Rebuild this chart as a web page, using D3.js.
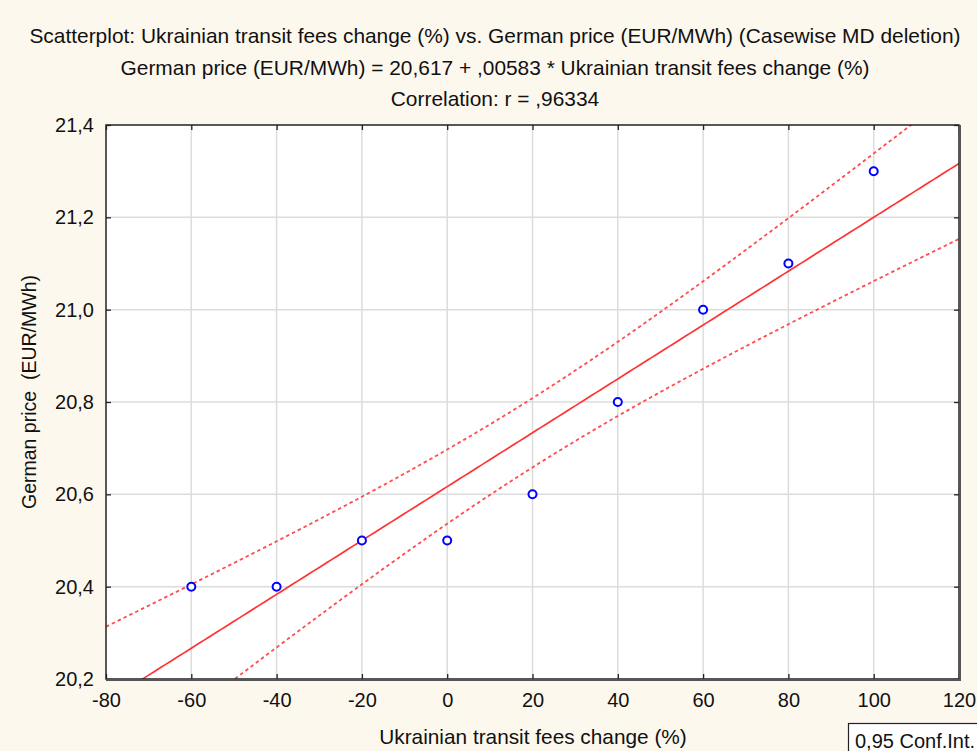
<!DOCTYPE html>
<html>
<head>
<meta charset="utf-8">
<script src="https://cdn.jsdelivr.net/npm/d3@7"></script>
<style>
  body { margin: 0; background: #fdf8ee; }
  svg { display: block; font-family: "Liberation Sans", Arial, sans-serif; }
</style>
</head>
<body>
<svg id="chart" width="977" height="751"></svg>
<script>
// data
var feesChange = [-60, -40, -20, 0, 20, 40, 60, 80, 100]
var germanPrice = [20.4, 20.4, 20.5, 20.5, 20.6, 20.8, 21.0, 21.1, 21.3]
var xTicks = [-80, -60, -40, -20, 0, 20, 40, 60, 80, 100, 120]
var yTicks = [20.2, 20.4, 20.6, 20.8, 21.0, 21.2, 21.4]
var titles = [
  "Scatterplot: Ukrainian transit fees change (%) vs. German price (EUR/MWh) (Casewise MD deletion)",
  "German price (EUR/MWh) = 20,617 + ,00583 * Ukrainian transit fees change (%)",
  "Correlation: r = ,96334"
]

var svg = d3.select('#chart')
var pL = 106, pR = 959, pT = 125, pB = 679

var x = d3.scaleLinear().domain([-80, 120]).range([pL, pR])
var y = d3.scaleLinear().domain([20.2, 21.4]).range([pB, pT])
var xFmt = v => String(v)
var yFmt = v => v.toFixed(1).replace('.', ',')

// regression + 95% band, from the points
var n = feesChange.length
var mx = d3.mean(feesChange), my = d3.mean(germanPrice)
var sxx = d3.sum(feesChange, d => (d - mx) * (d - mx))
var sxy = d3.sum(feesChange, (d, i) => (d - mx) * (germanPrice[i] - my))
var b = sxy / sxx, a = my - b * mx
var sse = d3.sum(feesChange, (d, i) => Math.pow(germanPrice[i] - (a + b * d), 2))
var s = Math.sqrt(sse / (n - 2))
var t = 2.3646 // t(0.975, 7)

svg.append('rect').attr('x', pL).attr('y', pT)
  .attr('width', pR - pL).attr('height', pB - pT).attr('fill', 'white')

svg.append('defs').append('clipPath').attr('id', 'clip')
  .append('rect').attr('x', pL).attr('y', pT).attr('width', pR - pL).attr('height', pB - pT)

// grid
svg.append('g').selectAll('line').data(xTicks.slice(1, -1)).enter().append('line')
  .attr('x1', d => x(d)).attr('x2', d => x(d)).attr('y1', pT).attr('y2', pB)
  .attr('stroke', '#dcdcdc').attr('stroke-width', 1.5)
svg.append('g').selectAll('line').data(yTicks.slice(1, -1)).enter().append('line')
  .attr('y1', d => y(d)).attr('y2', d => y(d)).attr('x1', pL).attr('x2', pR)
  .attr('stroke', '#dcdcdc').attr('stroke-width', 1.5)

var xs = d3.range(-80, 120.5, 1)
var plot = svg.append('g').attr('clip-path', 'url(#clip)')
var band = function(sign) {
  return d3.line()
    .x(d => x(d))
    .y(d => y(a + b * d + sign * t * s * Math.sqrt(1 / n + (d - mx) * (d - mx) / sxx)))
}
plot.append('path').datum(xs).attr('d', band(1)).attr('fill', 'none')
  .attr('stroke', '#ff4d4d').attr('stroke-width', 1.8).attr('stroke-dasharray', '3.5,3')
plot.append('path').datum(xs).attr('d', band(-1)).attr('fill', 'none')
  .attr('stroke', '#ff4d4d').attr('stroke-width', 1.8).attr('stroke-dasharray', '3.5,3')
plot.append('path').datum(xs).attr('d', band(0)).attr('fill', 'none')
  .attr('stroke', '#ff3333').attr('stroke-width', 1.7)

// points
svg.append('g').selectAll('circle').data(feesChange).enter().append('circle')
  .attr('cx', d => x(d)).attr('cy', (d, i) => y(germanPrice[i]))
  .attr('r', 4).attr('fill', 'white').attr('stroke', '#0000ff').attr('stroke-width', 2)

// axes, ticks inward
svg.append('g').attr('transform', 'translate(0,' + pB + ')')
  .call(d3.axisBottom(x).tickValues(xTicks).tickSize(-5).tickPadding(14).tickFormat(xFmt))
svg.append('g').attr('transform', 'translate(0,' + pT + ')')
  .call(d3.axisTop(x).tickValues(xTicks).tickSize(-5).tickFormat(''))
svg.append('g').attr('transform', 'translate(' + pL + ',0)')
  .call(d3.axisLeft(y).tickValues(yTicks).tickSize(-5).tickPadding(12).tickFormat(yFmt))
svg.append('g').attr('transform', 'translate(' + pR + ',0)')
  .call(d3.axisRight(y).tickValues(yTicks).tickSize(-5).tickFormat(''))

svg.selectAll('.domain').remove()
svg.selectAll('.tick line').attr('stroke', '#222').attr('stroke-width', 1.3)
svg.selectAll('.tick text').attr('font-size', 20).attr('fill', '#111')
  .attr('font-family', '"Liberation Sans", Arial, sans-serif')

// frame
svg.append('rect').attr('x', pL).attr('y', pT)
  .attr('width', pR - pL).attr('height', pB - pT)
  .attr('fill', 'none').attr('stroke', '#222').attr('stroke-width', 1.5)
svg.append('line').attr('x1', pR + 1).attr('x2', pR + 1).attr('y1', pT).attr('y2', pB + 1)
  .attr('stroke', '#555').attr('stroke-width', 2)
svg.append('line').attr('x1', pL).attr('x2', pR + 2).attr('y1', pB + 1).attr('y2', pB + 1)
  .attr('stroke', '#555').attr('stroke-width', 2)

// titles
svg.selectAll('.title').data(titles).enter().append('text')
  .attr('x', 495).attr('y', (d, i) => [43, 75, 106][i])
  .attr('text-anchor', 'middle').attr('font-size', 20.9).attr('fill', '#111')
  .text(d => d)

svg.append('text').attr('x', 533).attr('y', 744).attr('text-anchor', 'middle')
  .attr('font-size', 20.8).attr('fill', '#111').text('Ukrainian transit fees change (%)')
svg.append('text').attr('transform', 'translate(36,392) rotate(-90)').attr('text-anchor', 'middle')
  .attr('font-size', 19.5).attr('fill', '#111').text('German price\u00a0 (EUR/MWh)')

// legend box
svg.append('rect').attr('x', 848.5).attr('y', 723.5).attr('width', 140).attr('height', 40)
  .attr('fill', 'white').attr('stroke', '#222').attr('stroke-width', 1.2)
svg.append('text').attr('x', 855).attr('y', 748).attr('font-size', 20).attr('fill', '#111')
  .text('0,95 Conf.Int.')
</script>
</body>
</html>
